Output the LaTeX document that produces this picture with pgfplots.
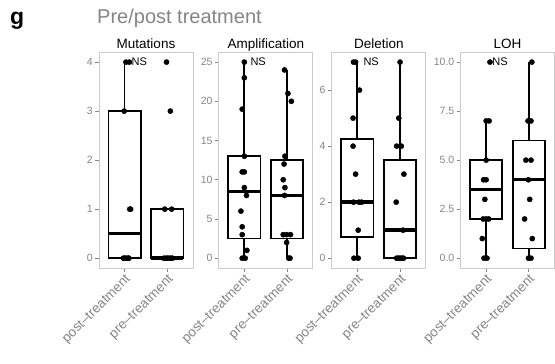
\documentclass[border=0pt]{standalone}
\usepackage{pgfplots}
\pgfplotsset{compat=1.18}
\usepgfplotslibrary{statistics}
\usepackage{fontspec}
\setmainfont{Liberation Sans}
\definecolor{framegray}{HTML}{CCCCCC}
\definecolor{labgray}{HTML}{858585}
\pgfplotsset{
 facet/.style={
   scale only axis, width=94pt, height=215.7pt, anchor=south west,
   xmin=0.4, xmax=2.6, xtick={1,2},
   xticklabels={post\textendash treatment, pre\textendash treatment},
   tick pos=left, tick align=outside, major tick length=4pt,
   axis line style={framegray, line width=0.8pt},
   tick style={labgray, line width=0.8pt},
   yticklabel style={font=\fontsize{10.5}{12}\selectfont, text=labgray, inner sep=2pt},
   xticklabel style={font=\fontsize{13.5}{15}\selectfont, text=labgray, rotate=45, anchor=north east, inner sep=1pt},
   /pgf/number format/assume math mode=true,
   clip=false,
   boxplot/draw direction=y,
   boxplot/box extend=0.75,
   boxplot/whisker extend=0,
   boxplot/every box/.style={draw=black, fill=white, line width=1.7pt},
   boxplot/every whisker/.style={black, line width=1.7pt},
   boxplot/every median/.style={black, line width=3.4pt},
 },
 pts/.style={only marks, mark=*, mark size=2.6pt, black, mark options={fill=black, draw=black}},
}
\newcommand{\ns}{\fontsize{11}{12}\selectfont}
\begin{document}
\begin{tikzpicture}
\useasboundingbox (0,0) rectangle (555pt,364pt);
\node[anchor=base west, inner sep=0pt, font=\fontsize{23}{26}\selectfont\bfseries] at (10pt,339pt) {g};
\node[anchor=base west, inner sep=0pt, text=labgray, font=\fontsize{20}{22}\selectfont] at (97pt,340pt) {Pre/post treatment};
\node[anchor=base, inner sep=0pt, font=\fontsize{13.5}{15}\selectfont] at (146pt,315.7pt) {Mutations};
\node[anchor=base, inner sep=0pt, font=\fontsize{13.5}{15}\selectfont] at (265.85pt,315.7pt) {Amplification};
\node[anchor=base, inner sep=0pt, font=\fontsize{13.5}{15}\selectfont] at (378.85pt,315.7pt) {Deletion};
\node[anchor=base, inner sep=0pt, font=\fontsize{13.5}{15}\selectfont] at (507.5pt,315.7pt) {LOH};

% Mutations
\begin{axis}[facet, at={(99pt,96pt)}, ymin=-0.2, ymax=4.2, ytick={0,1,2,3,4}]
\addplot[black, boxplot prepared={draw position=1, lower whisker=0, lower quartile=0, median=0.5, upper quartile=3, upper whisker=4}] coordinates {};
\addplot[black, boxplot prepared={draw position=2, lower whisker=0, lower quartile=0, median=0, upper quartile=1, upper whisker=1}] coordinates {};
\addplot[pts] coordinates {(1.03,4)(1.11,4)(0.99,3)(1.12,1)(1.14,1)(0.97,0)(1.0,0)(1.04,0)(1.08,0)(1.1,0)};
\addplot[pts] coordinates {(1.98,4)(2.07,3)(1.94,1)(2.1,1)(1.92,0)(1.97,0)(2.0,0)(2.04,0)(2.08,0)(2.12,0)};
\node[anchor=west, inner sep=0pt, font=\ns] at (axis cs:1.16,4) {NS};
\end{axis}

% Amplification
\begin{axis}[facet, at={(218.7pt,96pt)}, ymin=-1.25, ymax=26.25, ytick={0,5,10,15,20,25}]
\addplot[black, boxplot prepared={draw position=1, lower whisker=0, lower quartile=2.5, median=8.5, upper quartile=13, upper whisker=25}] coordinates {};
\addplot[black, boxplot prepared={draw position=2, lower whisker=0, lower quartile=2.5, median=8, upper quartile=12.5, upper whisker=24}] coordinates {};
\addplot[pts] coordinates {(1.0,25)(1.0,23)(0.95,19)(1.0,13)(0.95,11)(1.0,11)(1.0,9)(1.05,8)(0.92,6)(0.95,4)(0.95,3)(1.06,1)(0.95,0)(1.02,0)};
\addplot[pts] coordinates {(1.94,24)(2.02,21)(2.1,20)(1.95,13)(1.93,12)(1.91,10)(1.95,9)(1.94,8)(1.91,3)(1.99,3)(2.08,3)(1.99,2)(2.04,0)(2.07,0)};
\node[anchor=west, inner sep=0pt, font=\ns] at (axis cs:1.14,25) {NS};
\end{axis}

% Deletion
\begin{axis}[facet, at={(331.7pt,96pt)}, ymin=-0.35, ymax=7.35, ytick={0,2,4,6}]
\addplot[black, boxplot prepared={draw position=1, lower whisker=0, lower quartile=0.75, median=2, upper quartile=4.25, upper whisker=7}] coordinates {};
\addplot[black, boxplot prepared={draw position=2, lower whisker=0, lower quartile=0, median=1, upper quartile=3.5, upper whisker=7}] coordinates {};
\addplot[pts] coordinates {(0.91,7)(0.96,7)(1.05,6)(0.9,5)(0.9,4)(0.96,3)(0.91,2)(1.04,2)(1.1,2)(1.02,1)(0.92,0)(1.02,0)};
\addplot[pts] coordinates {(2.0,7)(1.97,5)(1.92,4)(2.03,4)(2.09,3)(1.91,2)(2.07,1)(1.92,0)(1.96,0)(2.0,0)(2.04,0)(2.08,0)};
\node[anchor=west, inner sep=0pt, font=\ns] at (axis cs:1.14,7) {NS};
\end{axis}

% LOH
\begin{axis}[facet, at={(460.5pt,96pt)}, ymin=-0.5, ymax=10.5, ytick={0,2.5,5,7.5,10}, yticklabels={0.0,2.5,5.0,7.5,10.0}]
\addplot[black, boxplot prepared={draw position=1, lower whisker=0, lower quartile=2, median=3.5, upper quartile=5, upper whisker=7}] coordinates {};
\addplot[black, boxplot prepared={draw position=2, lower whisker=0, lower quartile=0.5, median=4, upper quartile=6, upper whisker=10}] coordinates {};
\addplot[pts] coordinates {(1.09,10)(1.0,7)(1.07,7)(1.0,5)(0.94,4)(1.0,4)(0.97,3)(0.93,2)(1.06,2)(1.0,2)(0.91,1)(0.95,0)(1.02,0)};
\addplot[pts] coordinates {(2.07,10)(1.98,7)(2.05,7)(1.93,5)(2.05,5)(1.99,4)(2.02,3)(1.9,2)(2.08,1)(1.99,0)(2.05,0)};
\node[anchor=west, inner sep=0pt, font=\ns] at (axis cs:1.14,10) {NS};
\end{axis}
\end{tikzpicture}
\end{document}
